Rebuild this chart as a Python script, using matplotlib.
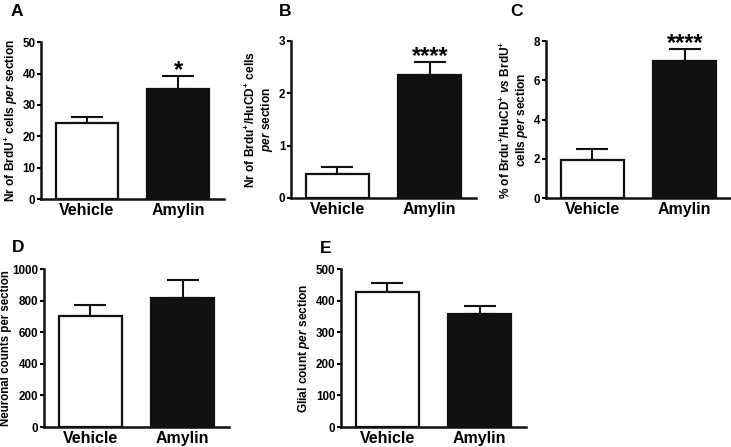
import numpy as np
import matplotlib.pyplot as plt

plt.rcParams['font.family'] = 'Liberation Sans'
plt.rcParams['font.weight'] = 'bold'
plt.rcParams['mathtext.fontset'] = 'custom'
plt.rcParams['mathtext.rm'] = 'Liberation Sans:bold'
plt.rcParams['mathtext.bf'] = 'Liberation Sans:bold'
plt.rcParams['mathtext.it'] = 'Liberation Sans:bold:italic'

groups = ['Vehicle', 'Amylin']

brdu_mean = [24.1, 35.2]
brdu_sem = [2.0, 3.9]
brdu_hucd_mean = [0.46, 2.34]
brdu_hucd_sem = [0.14, 0.25]
pct_mean = [1.94, 6.98]
pct_sem = [0.57, 0.61]
neuron_mean = [706, 819]
neuron_sem = [68, 113]
glia_mean = [428, 358]
glia_sem = [30, 26]

W, H = 731, 447
fig = plt.figure(figsize=(W / 100, H / 100), dpi=100)


def panel(left, right, top, bottom, mean, sem, ymax, ystep, ylabel, letter,
          letter_xy, stars=None, labelpad=3, ylsize=8.6):
    ax = fig.add_axes([left / W, 1 - bottom / H, (right - left) / W, (bottom - top) / H])
    x = np.arange(len(groups))
    ax.bar(x, mean, width=0.68, color=['white', '#111111'], edgecolor='#111111',
           linewidth=1.6, zorder=2)
    ax.errorbar(x, mean, yerr=[[0, 0], sem], fmt='none', ecolor='#111111',
                elinewidth=1.5, capsize=11.5, capthick=1.5, zorder=1)
    ax.set_xlim(-0.5, 1.5)
    ax.set_ylim(0, ymax)
    ax.set_yticks(np.arange(0, ymax + ystep / 2, ystep))
    ax.set_xticks(x)
    ax.set_xticklabels(groups, fontsize=11.5, fontweight='bold')
    ax.tick_params(axis='x', length=0, pad=3)
    ax.tick_params(axis='y', length=3, width=1.5, labelsize=8.4, pad=1)
    for s in ['top', 'right']:
        ax.spines[s].set_visible(False)
    for s in ['left', 'bottom']:
        ax.spines[s].set_linewidth(1.8)
        ax.spines[s].set_color('#111111')
    ax.set_ylabel(ylabel, fontsize=ylsize, fontweight='bold', labelpad=labelpad,
                  linespacing=1.1)
    if stars:
        for xi, st in zip(x, stars):
            if st:
                ax.text(xi, mean[xi] + sem[xi] - ymax * 0.035, st, ha='center',
                        va='bottom', fontsize=17, fontweight='bold')
    fig.text(letter_xy[0] / W, 1 - letter_xy[1] / H, letter, fontsize=12.5,
             fontweight='bold', ha='left', va='center')
    return ax


panel(41, 224, 42.3, 199, brdu_mean, brdu_sem, 50, 10,
      r'Nr of BrdU$^{+}$ cells $\mathit{per}$ section', 'A', (11, 12),
      stars=[None, '*'], labelpad=2)
panel(291, 476, 40.7, 198, brdu_hucd_mean, brdu_hucd_sem, 3, 1,
      'Nr of Brdu$^{+}$/HuCD$^{+}$ cells\n$\\mathit{per}$ section', 'B', (279, 12),
      stars=[None, '****'])
panel(546, 731, 41, 198.3, pct_mean, pct_sem, 8, 2,
      '% of Brdu$^{+}$/HuCD$^{+}$ $\\mathit{vs}$ BrdU$^{+}$\ncells $\\mathit{per}$ section',
      'C', (510, 12), stars=[None, '****'])
panel(44, 229, 269.3, 427, neuron_mean, neuron_sem, 1000, 200,
      'Neuronal counts per section', 'D', (12, 247), labelpad=0, ylsize=8.3)
panel(341, 526, 269.3, 427, glia_mean, glia_sem, 500, 100,
      r'Glial count $\mathit{per}$ section', 'E', (320, 248))

fig.savefig('out.png', dpi=100)
